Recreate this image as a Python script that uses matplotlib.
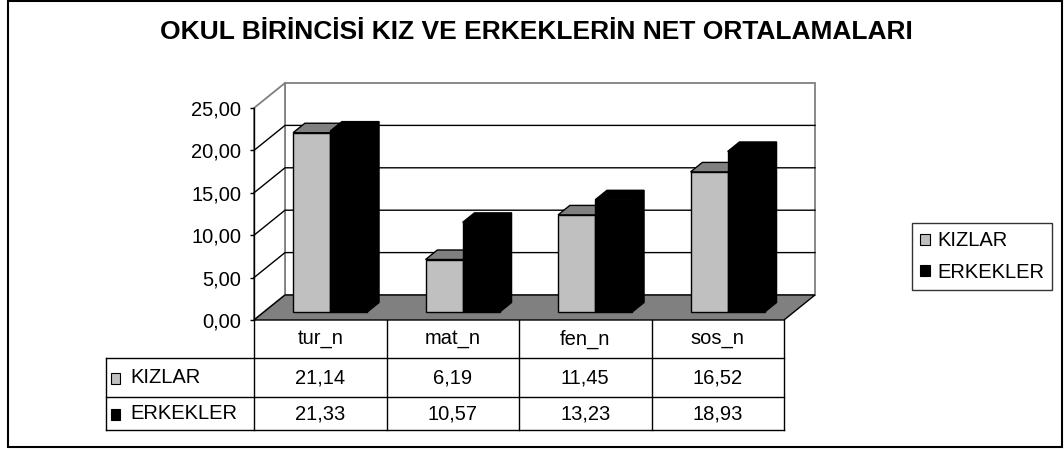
import matplotlib
matplotlib.use("Agg")
import matplotlib.pyplot as plt
from matplotlib.patches import Polygon, Rectangle, Patch
from matplotlib.lines import Line2D

plt.rcParams['font.family'] = ['Liberation Sans', 'DejaVu Sans']

# ---- data -------------------------------------------------------------
title = "OKUL BİRİNCİSİ KIZ VE ERKEKLERİN NET ORTALAMALARI"
categories = ["tur_n", "mat_n", "fen_n", "sos_n"]
series_names = ["KIZLAR", "ERKEKLER"]
kizlar = [21.14, 6.19, 11.45, 16.52]
erkekler = [21.33, 10.57, 13.23, 18.93]
y_ticks = [0, 5, 10, 15, 20, 25]

# ---- styling ----------------------------------------------------------
front_colors = ["#C0C0C0", "#000000"]
shade_colors = ["#808080", "#000000"]
wall_edge = "#808080"
floor_color = "#808080"
TXT = 14.5

W, H = 1064, 450
fig = plt.figure(figsize=(W / 100, H / 100), dpi=100)


def fx(px):
    return px / W


def fy(py):
    return 1 - py / H


def fmt(v):
    return f"{v:.2f}".replace(".", ",")


# front plane of the 3-D plot box
ax = fig.add_axes([fx(254), fy(320), fx(784) - fx(254), fy(108) - fy(320)])
n = len(categories)
ymax = y_ticks[-1]
ax.set_xlim(0, n)
ax.set_ylim(0, ymax)
ax.patch.set_visible(False)
for s in ["top", "right", "bottom"]:
    ax.spines[s].set_visible(False)
ax.spines["left"].set_linewidth(1.0)
ax.set_xticks([])
ax.set_yticks(y_ticks)
ax.set_yticklabels([fmt(t) for t in y_ticks], fontsize=TXT)
ax.tick_params(axis="y", length=3, width=1, pad=6)

# depth of the box, expressed in data units (x: categories, y: values)
px_per_x = 530 / n
px_per_y = 212 / ymax
DX, DY = 31 / px_per_x, 25 / px_per_y

# walls
ax.add_patch(Polygon([(DX, DY), (n + DX, DY), (n + DX, ymax + DY), (DX, ymax + DY)],
                     closed=True, fc="white", ec=wall_edge, lw=1.3, clip_on=False, zorder=1))
ax.add_patch(Polygon([(0, 0), (DX, DY), (DX, ymax + DY), (0, ymax)],
                     closed=True, fc="white", ec=wall_edge, lw=1.3, clip_on=False, zorder=1))
# gridlines on side and back wall
for t in y_ticks[1:-1]:
    ax.plot([0, DX, n + DX], [t, t + DY, t + DY], color="black", lw=1.0,
            clip_on=False, zorder=2)
# floor
ax.add_patch(Polygon([(0, 0), (n, 0), (n + DX, DY), (DX, DY)], closed=True,
                     fc=floor_color, ec="black", lw=1.0, clip_on=False, zorder=3))

# bars
F0, F1 = 0.32, 0.70   # front / back of the bars as a fraction of box depth
BW = 0.28
ox0, oy0 = F0 * DX, F0 * DY
ox1, oy1 = F1 * DX, F1 * DY
z = 4
for i in range(n):
    for j, vals in enumerate([kizlar, erkekler]):
        v = vals[i]
        x0 = i + 0.5 - BW + j * BW
        x1 = x0 + BW
        side = [(x1 + ox0, oy0), (x1 + ox1, oy1), (x1 + ox1, v + oy1), (x1 + ox0, v + oy0)]
        top = [(x0 + ox0, v + oy0), (x1 + ox0, v + oy0), (x1 + ox1, v + oy1), (x0 + ox1, v + oy1)]
        front = [(x0 + ox0, oy0), (x1 + ox0, oy0), (x1 + ox0, v + oy0), (x0 + ox0, v + oy0)]
        ax.add_patch(Polygon(side, closed=True, fc=shade_colors[j], ec="black", lw=1.0,
                             clip_on=False, zorder=z))
        ax.add_patch(Polygon(top, closed=True, fc=shade_colors[j], ec="black", lw=1.0,
                             clip_on=False, zorder=z))
        ax.add_patch(Polygon(front, closed=True, fc=front_colors[j], ec="black", lw=1.0,
                             clip_on=False, zorder=z))
        z += 0.01

# ---- data table -------------------------------------------------------
inv = fig.transFigure.inverted()
col_x = [inv.transform(ax.transData.transform((i, 0)))[0] for i in range(n + 1)]
left_x = fx(106)
row_y = [fy(320), fy(358), fy(397), fy(430)]


def fline(xs, ys):
    fig.add_artist(Line2D(xs, ys, color="black", lw=1.0, transform=fig.transFigure))


for y in row_y[1:]:
    fline([left_x, col_x[-1]], [y, y])
for x in col_x:
    fline([x, x], [row_y[0], row_y[-1]])
fline([left_x, left_x], [row_y[1], row_y[-1]])

for i, cat in enumerate(categories):
    cx = (col_x[i] + col_x[i + 1]) / 2
    fig.text(cx, (row_y[0] + row_y[1]) / 2, cat, ha="center", va="center", fontsize=TXT)
    fig.text(cx, (row_y[1] + row_y[2]) / 2, fmt(kizlar[i]), ha="center", va="center", fontsize=TXT)
    fig.text(cx, (row_y[2] + row_y[3]) / 2, fmt(erkekler[i]), ha="center", va="center", fontsize=TXT)

for r, name in enumerate(series_names):
    yc = (row_y[r + 1] + row_y[r + 2]) / 2
    fig.add_artist(Rectangle((fx(111), yc - 6 / H), 9 / W, 11 / H, fc=front_colors[r],
                             ec="black", lw=0.8, transform=fig.transFigure))
    fig.text(fx(130), yc, name, ha="left", va="center", fontsize=TXT)

# ---- legend -----------------------------------------------------------
handles = [Patch(fc=front_colors[k], ec="black", lw=0.8) for k in range(2)]
leg = fig.legend(handles, series_names, loc="center left",
                 bbox_to_anchor=(fx(912), fy(256.5)), fontsize=TXT, frameon=True,
                 fancybox=False, handlelength=0.5, handleheight=0.5,
                 handletextpad=0.35, borderpad=0.4, labelspacing=0.6,
                 borderaxespad=0)
leg.get_frame().set_edgecolor("black")
leg.get_frame().set_linewidth(1.0)

# ---- title and outer frame ---------------------------------------------
fig.text(fx(536), fy(32), title, ha="center", va="center", fontsize=19, fontweight="bold")
fig.add_artist(Rectangle((fx(8), fy(447)), (1062 - 8) / W, (447 - 1) / H, fill=False,
                         ec="black", lw=1.5, transform=fig.transFigure))

fig.savefig("out.png", dpi=100)
